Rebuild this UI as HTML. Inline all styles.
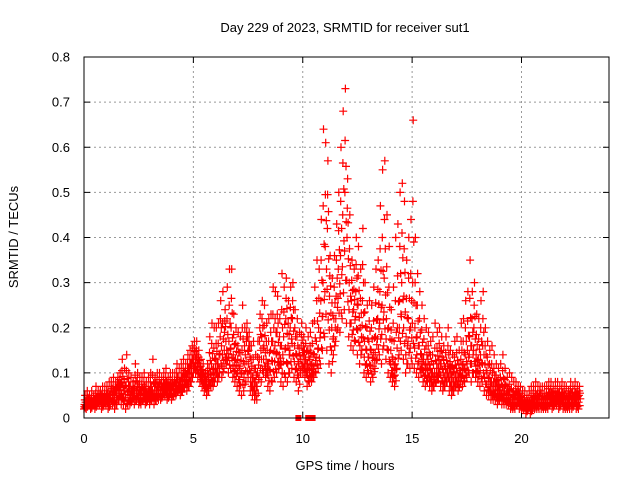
<!DOCTYPE html>
<html><head><meta charset="utf-8"><style>
html,body{margin:0;padding:0;background:#fff;}
svg{display:block;font-family:"Liberation Sans",sans-serif;}
</style></head><body>
<svg id="chart" width="640" height="480" viewBox="0 0 640 480">
<text x="345" y="32" font-size="13" text-anchor="middle">Day 229 of 2023, SRMTID for receiver sut1</text>
<text x="18" y="237" font-size="13" text-anchor="middle" transform="rotate(-90 18 237)">SRMTID / TECUs</text>
<text x="345" y="470" font-size="13" text-anchor="middle">GPS time / hours</text>
<g id="grid"></g>
<g id="ticks"></g>
<g id="points"></g>
<rect x="84" y="57" width="525" height="361" fill="none" stroke="#000" stroke-width="1"/>
</svg>
<script>
const xTicks=[0,5,10,15,20];
const yTicks=[0,0.1,0.2,0.3,0.4,0.5,0.6,0.7,0.8];
const yTickLabels=["0","0.1","0.2","0.3","0.4","0.5","0.6","0.7","0.8"];
const startHour=0, binStep=0.1;
const lo=[.02,.02,.03,.02,.03,.02,.03,.03,.02,.03,
.03,.02,.03,.03,.02,.03,.04,.03,.03,.02,
.03,.03,.04,.03,.04,.03,.03,.04,.03,.04,
.03,.04,.03,.04,.04,.04,.05,.05,.04,.05,
.04,.05,.05,.06,.05,.06,.07,.06,.07,.08,
.10,.10,.09,.08,.07,.06,.05,.06,.07,.07,
.09,.08,.10,.09,.11,.12,.10,.11,.09,.08,
.07,.06,.05,.06,.08,.09,.06,.05,.04,.04,
.09,.08,.10,.09,.07,.06,.08,.09,.10,.11,
.08,.07,.09,.08,.10,.11,.09,.08,.06,.10,
.10,.09,.07,.08,.08,.09,.10,.11,.12,.15,
.18,.15,.12,.10,.14,.17,.20,.19,.22,.24,
.21,.18,.16,.15,.17,.14,.12,.15,.10,.09,
.10,.08,.09,.11,.13,.14,.12,.16,.13,.10,
.09,.08,.07,.11,.14,.15,.13,.10,.12,.11,
.12,.11,.10,.09,.10,.08,.07,.08,.07,.06,
.07,.08,.09,.07,.06,.07,.08,.06,.05,.06,
.07,.06,.08,.07,.08,.09,.10,.08,.10,.09,
.08,.07,.08,.06,.05,.05,.04,.04,.04,.03,
.04,.03,.03,.03,.03,.02,.02,.02,.03,.02,
.02,.02,.01,.02,.01,.02,.02,.02,.02,.02,
.02,.02,.02,.03,.02,.03,.03,.02,.03,.02,
.02,.02,.02,.02,.03,.02,.02];
const mid=[.03,.04,.04,.03,.04,.04,.04,.05,.04,.04,
.05,.04,.06,.05,.06,.07,.07,.08,.06,.07,
.06,.05,.06,.07,.06,.05,.06,.06,.05,.05,
.06,.06,.07,.06,.07,.06,.07,.07,.06,.07,
.07,.07,.08,.07,.08,.09,.09,.10,.11,.12,
.14,.13,.12,.10,.09,.08,.09,.11,.12,.11,
.13,.12,.18,.14,.19,.15,.17,.20,.14,.13,
.13,.11,.15,.12,.17,.15,.10,.09,.08,.10,
.17,.18,.16,.13,.12,.15,.17,.16,.19,.14,
.16,.18,.22,.16,.20,.22,.16,.14,.12,.16,
.14,.13,.12,.13,.12,.14,.17,.20,.26,.30,
.38,.42,.27,.20,.22,.27,.33,.36,.45,.50,
.40,.30,.26,.24,.28,.25,.20,.26,.17,.15,
.17,.15,.14,.18,.22,.28,.25,.31,.22,.20,
.15,.13,.12,.20,.26,.30,.27,.18,.22,.20,
.30,.20,.18,.16,.14,.13,.12,.13,.11,.10,
.10,.12,.13,.12,.10,.11,.12,.10,.09,.10,
.11,.09,.13,.12,.14,.15,.18,.16,.20,.14,
.13,.14,.16,.12,.10,.09,.08,.08,.07,.06,
.06,.07,.06,.05,.05,.04,.04,.05,.05,.04,
.03,.03,.03,.03,.03,.04,.04,.04,.05,.04,
.04,.04,.05,.05,.04,.04,.05,.04,.05,.04,
.04,.04,.05,.04,.05,.04,.05];
const hi=[.05,.06,.05,.06,.05,.07,.06,.06,.07,.07,
.07,.08,.08,.09,.08,.09,.10,.13,.11,.14,
.10,.09,.08,.12,.10,.09,.09,.10,.08,.09,
.10,.13,.09,.10,.10,.09,.10,.11,.09,.10,
.10,.10,.12,.11,.12,.13,.12,.14,.15,.16,
.17,.17,.15,.13,.12,.10,.12,.18,.21,.20,
.20,.21,.26,.28,.24,.29,.33,.33,.23,.20,
.19,.18,.25,.20,.21,.19,.16,.17,.14,.17,
.23,.26,.25,.21,.22,.23,.29,.28,.27,.22,
.32,.29,.31,.26,.29,.30,.24,.22,.19,.21,
.18,.20,.18,.19,.21,.29,.35,.33,.44,.64,
.61,.57,.36,.31,.36,.43,.50,.60,.68,.73,
.53,.45,.35,.33,.40,.38,.33,.42,.30,.25,
.26,.25,.29,.33,.35,.47,.55,.57,.45,.38,
.24,.29,.40,.43,.50,.52,.48,.35,.40,.44,
.66,.40,.32,.28,.25,.22,.20,.19,.17,.18,
.21,.19,.20,.18,.16,.18,.20,.15,.14,.17,
.18,.15,.21,.22,.26,.28,.35,.28,.30,.23,
.22,.26,.28,.20,.17,.15,.16,.14,.12,.11,
.12,.14,.11,.09,.10,.09,.08,.08,.07,.07,
.06,.06,.05,.06,.07,.07,.08,.07,.07,.07,
.07,.07,.08,.08,.07,.08,.08,.07,.08,.07,
.07,.06,.08,.07,.08,.07,.07];
const zeroHours=[9.8,10.25,10.45];

const X0=84,X1=609,Y0=418,Y1=57,XMAX=24,YMAX=0.8;
const xs=h=>X0+(h/XMAX)*(X1-X0);
const ys=v=>Y0-(v/YMAX)*(Y0-Y1);
const NS="http://www.w3.org/2000/svg";
const grid=document.getElementById('grid'),ticks=document.getElementById('ticks'),pts=document.getElementById('points');
function mk(tag,attrs,parent){const e=document.createElementNS(NS,tag);for(const k in attrs)e.setAttribute(k,attrs[k]);parent.appendChild(e);return e;}
yTicks.forEach((v,i)=>{const y=ys(v);
 if(i>0&&i<yTicks.length-1){const g=mk('line',{x1:X0,x2:X1,y1:y,y2:y,stroke:'#999','stroke-dasharray':'2,3'},grid);
 
 }
 const t1=mk('line',{x1:X0,x2:X0+6,y1:y,y2:y,stroke:'#000'},ticks);
 
 
 const t2=mk('line',{x1:X1-6,x2:X1,y1:y,y2:y,stroke:'#000'},ticks);
 
 
 const l=mk('text',{x:70,y:y+4.5,'font-size':13,'text-anchor':'end'},ticks);l.textContent=yTickLabels[i];
 
 
});
xTicks.forEach(h=>{const x=xs(h);
 if(h>0){const g=mk('line',{x1:x,x2:x,y1:Y0,y2:Y1,stroke:'#999','stroke-dasharray':'2,3'},grid);
 
 }
 const t1=mk('line',{x1:x,x2:x,y1:Y0,y2:Y0-6,stroke:'#000'},ticks);
 
 
 const t2=mk('line',{x1:x,x2:x,y1:Y1,y2:Y1+6,stroke:'#000'},ticks);
 
 
 const l=mk('text',{x:x,y:443,'font-size':13,'text-anchor':'middle'},ticks);l.textContent=String(h);
 
 
});
let d='';
function plus(h,v){const x=xs(h),y=ys(v);d+=`M${(x-4).toFixed(1)} ${y.toFixed(1)}h8M${x.toFixed(1)} ${(y-4).toFixed(1)}v8`;}
const fracs=[0,0.12,0.25,0.37,0.5,0.62,0.75,0.87];
const mixes=[0,0.5,1,1.5,2,0.25,1.25,0.75];
for(let i=0;i<lo.length;i++){const h=startHour+i*binStep;
 fracs.forEach((f,k)=>{const m=mixes[k];
  const v=m<=1?lo[i]+(mid[i]-lo[i])*m:mid[i]+(hi[i]-mid[i])*(m-1);
  plus(h+binStep*f,v);});}
const p=mk('path',{d:d,stroke:'#ff0000','stroke-width':1.2,fill:'none'},pts);


zeroHours.forEach(h=>{const r=mk('rect',{x:xs(h)-3,y:Y0-3,width:6,height:6,fill:'#ff0000'},pts);
 
 });
</script>
</body></html>
